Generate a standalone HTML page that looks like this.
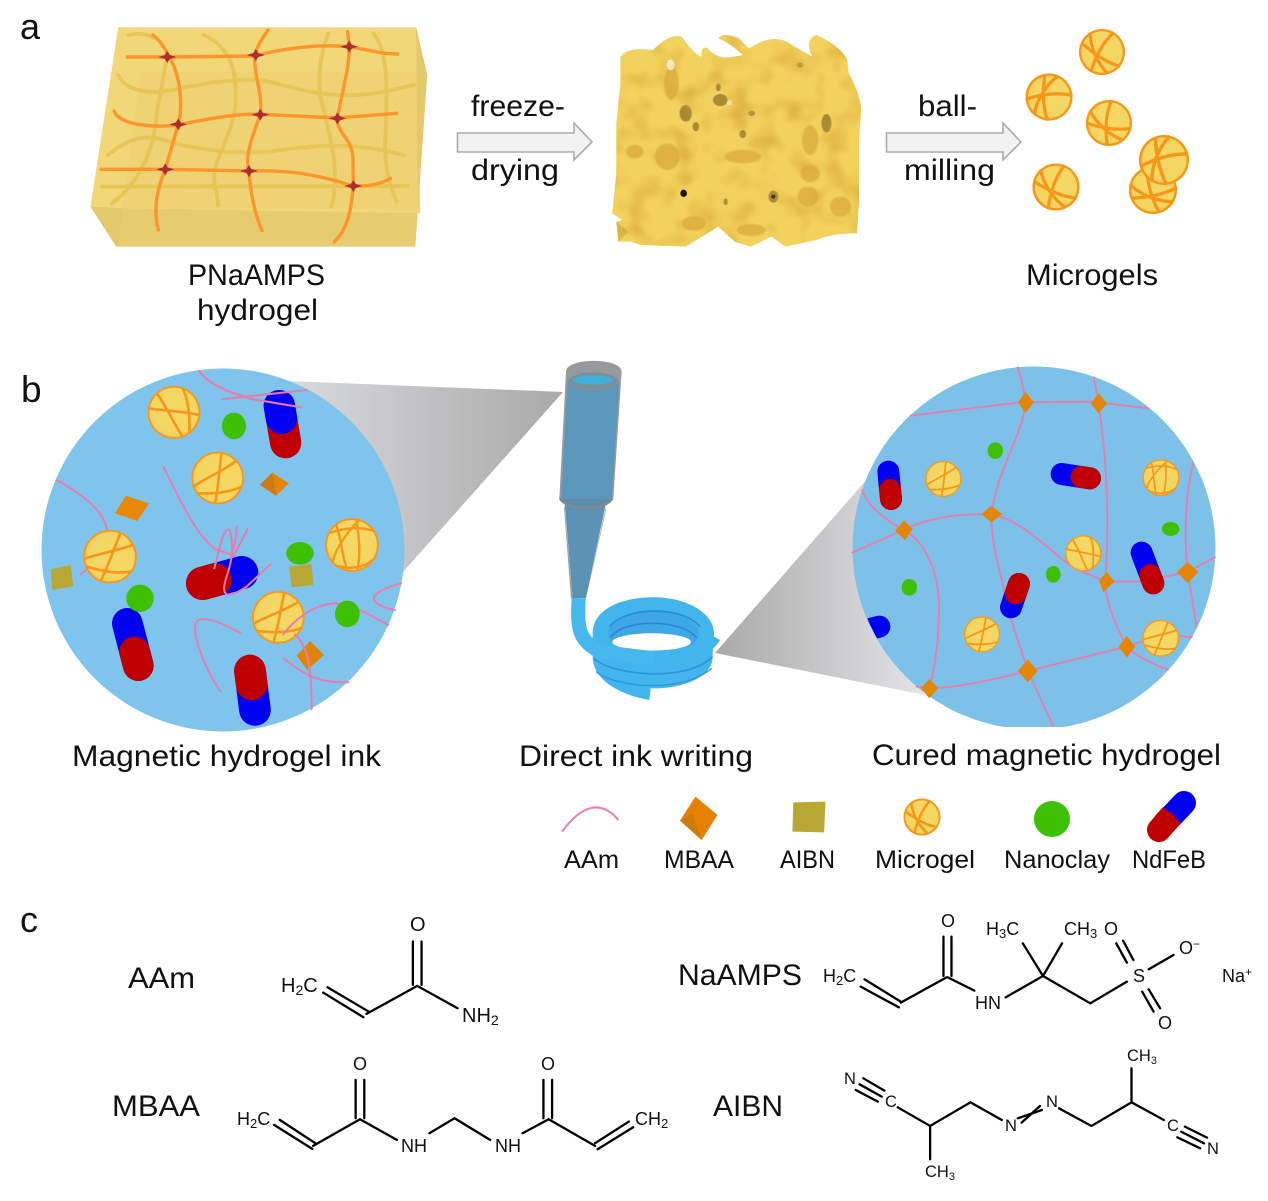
<!DOCTYPE html>
<html><head><meta charset="utf-8"><style>
html,body{margin:0;padding:0;background:#fff}
svg{display:block}
text{font-family:"Liberation Sans",sans-serif;fill:#111}
.n{vector-effect:non-scaling-stroke}
.p{fill:none;stroke:#e97cab;stroke-width:6;stroke-linecap:round}
.b{fill:none;stroke:#000;stroke-width:2.300;vector-effect:non-scaling-stroke;stroke-linecap:round}
.t{font-size:30px}.l{font-size:25px}.c{font-size:20px;fill:#111}.s{font-size:18px;fill:#111}.q{font-size:16.5px;fill:#111}
</style></head><body>
<svg width="1268" height="1201" viewBox="0 0 1268 1201" xmlns="http://www.w3.org/2000/svg">
<defs>
<radialGradient id="yb" cx=".5" cy=".45" r=".55"><stop offset="0" stop-color="#f5d966"/><stop offset=".82" stop-color="#f3d561"/><stop offset="1" stop-color="#ecc455"/></radialGradient>
<linearGradient id="gl" x1="0" x2="1" y1="0" y2="0"><stop offset="0" stop-color="#d9dadd"/><stop offset="1" stop-color="#a9a9a9"/></linearGradient>
<linearGradient id="gr" x1="0" x2="1" y1="0" y2="0"><stop offset="0" stop-color="#a9a9a9"/><stop offset="1" stop-color="#e4e4e8"/></linearGradient>
<filter id="bl" x="-20%" y="-20%" width="140%" height="140%"><feGaussianBlur stdDeviation="2"/></filter>
<filter id="bs" x="-20%" y="-20%" width="140%" height="140%"><feGaussianBlur stdDeviation="1"/></filter>
<filter id="sp" x="0" y="0" width="1" height="1" color-interpolation-filters="sRGB">
<feTurbulence type="fractalNoise" baseFrequency=".04" numOctaves="2" seed="7" result="n"/>
<feColorMatrix in="n" type="matrix" values="0 0 0 0 .85  0 0 0 0 .66  0 0 0 0 .22  2 0 0 0 -.95" result="m"/>
<feGaussianBlur in="m" stdDeviation="1" result="m2"/>
<feComposite in="m2" in2="SourceAlpha" operator="in" result="c"/>
<feMerge><feMergeNode in="SourceGraphic"/><feMergeNode in="c"/></feMerge>
</filter>
<g id="ball"><circle r="50" fill="url(#yb)"/><circle r="48.500" fill="none" stroke="#f7971a" stroke-width="3.500"/>
<path d="M-26,-41C-12,-14 -6,16 8,48M-47,-16C-16,-6 20,2 48,14M24,-43C32,-15 28,15 22,44" fill="none" stroke="#f7971a" stroke-width="5"/></g>
<g id="ball2"><circle r="50" fill="url(#yb)"/><circle r="48.500" fill="none" stroke="#f7971a" stroke-width="3.500"/>
<path d="M-30,-38C-18,-10 -20,22 -8,48M14,-48C-10,-22 -32,8 -36,32M8,-48C14,-14 16,20 10,48M-44,-22C-10,-34 20,-34 42,-26M-32,38C0,48 24,42 44,24" fill="none" stroke="#f7971a" stroke-width="4.500"/></g>
<g id="ballA"><circle r="50" fill="url(#yb)"/><circle r="47.500" fill="none" stroke="#f7971a" stroke-width="5"/>
<path d="M14,-48C-4,-20 -12,16 -12,48M-48,-8C-22,6 14,20 46,20M-36,-34C-26,-2 -4,26 24,42" fill="none" stroke="#f7971a" stroke-width="7"/></g>
<clipPath id="cr"><circle cx="582" cy="579" r="543"/></clipPath>
</defs>

<!-- panel a: block -->
<text x="20" y="39" font-size="36">a</text>
<g transform="scale(.408,.3333)">
<path d="M290,82L1020,82L1047,225L1018,740L285,740L222,620Z" fill="#e6cc6f"/>
<path d="M290,82L1020,82L1030,640L300,625L222,620Z" fill="#f1d778"/>
<path d="M345,215L1020,215L1028,630L300,622Z" fill="#eed274"/>
<path d="M1020,82L1047,225L1018,740L1024,632Z" fill="#e4c96c"/>
<path d="M222,620L300,625L290,740L285,740Z" fill="#e3c86c"/>
<g fill="none" stroke="#e7c655" stroke-width="3.800" stroke-linecap="round">
<path class="n" d="M315,105C340,98 360,100 375,115"/>
<path class="n" d="M290,225C310,280 380,285 440,265C520,245 600,235 640,240C700,255 750,280 830,285C900,290 960,270 1015,255"/>
<path class="n" d="M265,465C310,420 350,400 400,420C470,445 560,465 660,455C750,440 850,420 990,465"/>
<path class="n" d="M250,560L1000,558"/>
<path class="n" d="M275,610C340,550 380,450 385,330L410,170"/>
<path class="n" d="M500,105C560,140 580,200 578,300C575,400 520,480 525,540L535,615"/>
<path class="n" d="M805,100C780,180 775,260 795,340C820,460 830,540 812,620"/>
<path class="n" d="M915,100C950,150 950,250 945,400C940,480 950,540 972,605"/>
</g>
<g fill="none" stroke="#fb952c" stroke-width="3.400" stroke-linecap="round">
<path class="n" d="M312,171L410,171L625,168C680,150 770,130 855,140C900,148 930,162 975,162"/>
<path class="n" d="M280,333C290,375 380,385 438,374C500,360 570,340 640,343L825,354L972,340"/>
<path class="n" d="M248,508L405,508L610,513C700,510 770,520 865,558C900,560 930,555 957,535"/>
<path class="n" d="M375,105C400,130 410,160 415,172C440,220 450,310 437,373L405,508C385,570 375,620 388,690"/>
<path class="n" d="M657,90C640,120 630,140 625,165C620,220 645,280 638,344C615,420 600,470 610,513C615,590 625,640 642,692"/>
<path class="n" d="M852,95L856,140C855,220 835,290 827,355C825,400 860,410 865,470L866,558C860,640 850,690 820,725"/>
</g>
<g fill="#b02c30">
<path d="M410,153L416,165L432,171L416,177L410,189L404,177L388,171L404,165Z"/>
<path d="M627,147L633,159L649,165L633,171L627,183L621,171L605,165L621,159Z"/>
<path d="M856,122L862,134L878,140L862,146L856,158L850,146L834,140L850,134Z"/>
<path d="M437,355L443,367L459,373L443,379L437,391L431,379L415,373L431,367Z"/>
<path d="M638,326L644,338L660,344L644,350L638,362L632,350L616,344L632,338Z"/>
<path d="M827,337L833,349L849,355L833,361L827,373L821,361L805,355L821,349Z"/>
<path d="M405,490L411,502L427,508L411,514L405,526L399,514L383,508L399,502Z"/>
<path d="M610,495L616,507L632,513L616,519L610,531L604,519L588,513L604,507Z"/>
<path d="M866,540L872,552L888,558L872,564L866,576L860,564L844,558L860,552Z"/>
</g>
</g>

<!-- arrows -->
<path d="M457.500,133L574,133L574,123L592,142L574,160L574,152L457.500,152Z" fill="#f2f2f2" stroke="#aaa" stroke-width="1.600"/>
<path d="M886.500,133L1003,133L1003,123L1021,142L1003,160L1003,152L886.500,152Z" fill="#f2f2f2" stroke="#aaa" stroke-width="1.600"/>

<!-- sponge -->
<g filter="url(#sp)">
<g transform="translate(600,0) scale(.408,.3333)">
<path d="M50,170Q70,140 130,150Q170,100 200,110Q235,170 250,170Q245,135 265,145Q285,180 330,170L350,165Q320,130 290,115Q300,95 340,115L365,145L395,125Q440,105 470,135L520,170Q500,120 530,105Q580,130 605,175L610,220Q640,290 640,330L635,420L635,600L630,700Q570,700 530,720L455,740L420,710L370,740L330,725L290,680L210,740L100,735L75,725L45,725L40,665L55,660L30,640L40,520L40,370L50,250Z" fill="#f2d15c"/>
<g filter="url(#bl)" fill="#dfb443">
<ellipse cx="175" cy="250" rx="18" ry="50"/><ellipse cx="85" cy="455" rx="22" ry="20"/><ellipse cx="165" cy="470" rx="30" ry="40"/><ellipse cx="515" cy="420" rx="20" ry="45"/><ellipse cx="515" cy="520" rx="24" ry="26"/><ellipse cx="590" cy="620" rx="26" ry="30"/><ellipse cx="510" cy="590" rx="26" ry="30"/><ellipse cx="350" cy="470" rx="45" ry="20"/><ellipse cx="230" cy="670" rx="30" ry="22"/><ellipse cx="370" cy="690" rx="35" ry="18"/></g>
<g filter="url(#bs)" fill="#a88a36">
<ellipse cx="210" cy="340" rx="15" ry="25"/><ellipse cx="295" cy="300" rx="18" ry="18"/><ellipse cx="555" cy="370" rx="12" ry="28"/><ellipse cx="235" cy="380" rx="8" ry="14"/><ellipse cx="350" cy="402" rx="8" ry="12"/><ellipse cx="425" cy="590" rx="12" ry="18"/><ellipse cx="372" cy="340" rx="8" ry="8"/><ellipse cx="490" cy="195" rx="7" ry="8"/><ellipse cx="290" cy="262" rx="6" ry="12"/><ellipse cx="308" cy="605" rx="5" ry="10"/></g>
<ellipse cx="205" cy="580" rx="8" ry="11" fill="#1a1408"/><ellipse cx="425" cy="590" rx="5" ry="6" fill="#3a2a10"/><ellipse cx="173" cy="195" rx="10" ry="16" fill="#fff"/><ellipse cx="318" cy="308" rx="7" ry="8" fill="#f3ee9c"/>
<path d="M40,665L70,695L45,725Z" fill="#dcb548"/>
</g>
</g>

<!-- microgels a -->
<use href="#ballA" transform="translate(1102,52) scale(.46) rotate(15)"/>
<use href="#ballA" transform="translate(1049,97) scale(.47) rotate(70)"/>
<use href="#ballA" transform="translate(1109,123) scale(.46) rotate(-10)"/>
<use href="#ballA" transform="translate(1153,190) scale(.48) rotate(-30)"/>
<use href="#ballA" transform="translate(1164,160) scale(.5) rotate(60)"/>
<use href="#ballA" transform="translate(1056,187) scale(.47) rotate(5)"/>

<!-- beams -->
<polygon points="287,381 563,392 403,572 380,500" fill="url(#gl)"/>
<polygon points="715,653 875,470 890,600 925,695" fill="url(#gr)"/>

<!-- left circle -->
<text x="21" y="402" font-size="37">b</text>
<circle cx="223" cy="550" r="181.500" fill="#7fc4ec"/>
<g transform="translate(20,350) scale(.3333)">
<g class="p"><path d="M537,62C570,110 640,130 700,148L845,172"/></g>
<line x1="778" y1="167" x2="797" y2="278" stroke="#c00000" stroke-width="94" stroke-linecap="round"/>
<line x1="778" y1="167" x2="784.500" y2="205" stroke="#0000f0" stroke-width="94" stroke-linecap="round"/>
<g class="p"><path d="M605,148L860,120M537,62C570,110 640,130 700,148L845,172"/>
<path d="M430,350C480,450 530,560 590,600L640,615"/>
<path d="M110,390C180,430 255,480 262,545"/><path d="M182,672L200,660"/></g>
<use href="#ball" transform="translate(462,187) scale(1.58) rotate(-10)"/>
<use href="#ball" transform="translate(593,384) scale(1.57) rotate(80)"/>
<use href="#ball" transform="translate(270,620) scale(1.6) rotate(95)"/>
<use href="#ball2" transform="translate(996,585) scale(1.6)"/>
<line x1="665" y1="668" x2="548" y2="700" stroke="#0000f0" stroke-width="100" stroke-linecap="round"/>
<line x1="548" y1="700" x2="585" y2="690" stroke="#c00000" stroke-width="100" stroke-linecap="round"/>
<line x1="322" y1="820" x2="355" y2="947" stroke="#0000f0" stroke-width="92" stroke-linecap="round"/>
<line x1="355" y1="947" x2="344" y2="906" stroke="#c00000" stroke-width="92" stroke-linecap="round"/>
<line x1="705" y1="1080" x2="690" y2="962" stroke="#0000f0" stroke-width="95" stroke-linecap="round"/>
<line x1="690" y1="962" x2="695.200" y2="1003" stroke="#c00000" stroke-width="95" stroke-linecap="round"/>
<use href="#ball" transform="translate(775,802) scale(1.57) rotate(85)"/>
<g class="p"><path d="M583,655C600,590 610,530 630,540C640,590 640,620 620,680C600,740 620,750 680,710L752,642"/>
<path d="M650,530C650,570 640,600 632,615M683,537L640,620"/>
<path d="M662,850C610,820 560,800 535,810C505,830 550,950 602,1025"/>
<path d="M1143,700C1090,715 1050,735 1065,755C1080,770 1100,775 1125,780"/></g>
<g fill="#3cc000"><ellipse cx="642" cy="228" rx="36" ry="40"/><ellipse cx="840" cy="610" rx="41" ry="34"/><circle cx="360" cy="745" r="41"/></g>
<polygon points="720,405 757,368 807,400 768,437" fill="#e58405"/><polygon points="757,368 768,437 720,405" fill="#cf7a10"/>
<polygon points="318,437 387,460 352,513 285,490" fill="#e88805"/>
<polygon points="870,873 912,915 862,960 830,917" fill="#e08408"/>
<polygon points="92,658 152,645 160,708 97,720" fill="#b8a635"/>
<polygon points="808,650 875,642 880,705 815,712" fill="#b8a635"/>
<g class="p"><path d="M790,853C840,790 900,760 950,760C1010,770 1060,800 1105,825"/>
<path d="M825,855C870,890 875,980 875,1078"/><path d="M792,925C850,975 900,1000 985,997"/></g>
<ellipse cx="982" cy="792" rx="37" ry="40" fill="#3cc000"/>
</g>

<!-- nozzle -->
<g transform="translate(520,350) scale(.3333)">
<path d="M138,65C138,22 305,22 305,65L280,445L118,445Z" fill="#969a9d"/>
<path d="M143,95C150,120 290,125 298,95L276,445L124,445Z" fill="#5b96bb"/>
<ellipse cx="220" cy="95" rx="75" ry="28" fill="#7a8f9c"/>
<ellipse cx="218" cy="90" rx="60" ry="14" fill="#3fb0da"/>
<path d="M134,460L258,460L198,745L158,745Z" fill="#5c93b5"/>
<path d="M134,470L158,745L153,745L132,472ZM258,470L198,745L204,720L258,480Z" fill="#9a9c9e"/>
<path d="M120,445C135,482 262,482 277,445" fill="#5b8ead" stroke="#868a8e" stroke-width="7"/>
<path d="M176,745C172,830 172,870 240,905" fill="none" stroke="#42b5ec" stroke-width="42"/>
<path d="M218,850C218,780 300,742 400,742C500,742 582,790 582,850L577,930C570,985 480,1018 392,1015L388,1050C300,1035 218,990 218,920Z" fill="#42b5ec"/>
<ellipse cx="400" cy="850" rx="135" ry="70" fill="#3ea8e6"/>
<path d="M268,830C320,768 490,768 540,830" fill="none" stroke="#2b86d8" stroke-width="5" opacity=".85"/>
<path d="M272,865C300,805 490,805 530,865" fill="none" stroke="#2b86d8" stroke-width="5"/>
<ellipse cx="395" cy="876" rx="118" ry="26" fill="#fff"/>
<path d="M240,890C260,920 340,925 400,925C480,925 560,900 582,860" fill="none" stroke="#42b5ec" stroke-width="42"/>
<path d="M222,925C270,975 500,1000 578,920" fill="none" stroke="#2f93df" stroke-width="5"/>
<path d="M228,965C290,1015 490,1030 575,955" fill="none" stroke="#2f93df" stroke-width="4"/>
<path d="M176,745C172,830 172,870 240,905L400,925" fill="none" stroke="#45b8ee" stroke-width="42"/>
</g>

<!-- right circle -->
<circle cx="1034" cy="548" r="181.500" fill="#7dc0e8"/>
<g transform="translate(840,355) scale(.3333)">
<g class="p" style="stroke-width:5.500">
<path d="M212,182L540,142L755,140L925,160"/>
<path d="M533,37C545,70 552,100 555,142C555,230 470,340 455,478C450,560 480,640 512,790L563,945L640,1115"/>
<path d="M762,68L775,145C800,300 810,500 795,680C800,770 850,850 860,875C900,910 940,930 985,943"/>
<path d="M67,405C80,450 130,490 190,525C240,550 290,620 297,740C298,830 290,920 268,1000"/>
<path d="M37,593L190,525C260,490 350,475 455,478C520,490 580,540 640,590C690,640 750,660 800,680L900,680L1043,652L1125,607"/>
<path d="M230,995L270,1000C330,998 400,990 563,948L860,875L905,860"/>
<path d="M1060,325C1040,400 1030,520 1043,652L1070,815"/><path d="M1020,843L1055,847"/>
</g>
<g fill="#e58506">
<polygon points="557,110 581,142 557,174 534,142"/><polygon points="776,115 801,145 776,175 752,145"/>
<polygon points="192,496 218,522 195,555 165,527"/><polygon points="453,453 487,477 455,502 424,478"/>
<polygon points="800,651 824,680 790,711 777,677"/><polygon points="1043,621 1075,652 1043,684 1011,652"/>
<polygon points="860,843 886,875 860,908 836,875"/><polygon points="563,914 593,948 563,982 534,948"/>
<polygon points="268,972 295,1000 268,1030 243,1000"/>
</g>
<g clip-path="url(#cr)">
<line x1="118" y1="815" x2="60" y2="830" stroke="#0000f0" stroke-width="66" stroke-linecap="round"/>
</g>
<line x1="145" y1="350" x2="153" y2="432" stroke="#0000f0" stroke-width="66" stroke-linecap="round"/>
<line x1="153" y1="432" x2="150.400" y2="405" stroke="#c00000" stroke-width="66" stroke-linecap="round"/>
<line x1="665" y1="357" x2="750" y2="370" stroke="#0000f0" stroke-width="66" stroke-linecap="round"/>
<line x1="750" y1="370" x2="724.500" y2="366" stroke="#c00000" stroke-width="66" stroke-linecap="round"/>
<line x1="905" y1="593" x2="940" y2="685" stroke="#0000f0" stroke-width="66" stroke-linecap="round"/>
<line x1="940" y1="685" x2="931" y2="661" stroke="#c00000" stroke-width="66" stroke-linecap="round"/>
<line x1="513" y1="757" x2="537" y2="687" stroke="#0000f0" stroke-width="66" stroke-linecap="round"/>
<line x1="537" y1="687" x2="527.400" y2="715" stroke="#c00000" stroke-width="66" stroke-linecap="round"/>
<use href="#ball" transform="translate(310,372) scale(1.08) rotate(80)"/>
<use href="#ball2" transform="translate(963,368) scale(1.1) rotate(5)"/>
<use href="#ball" transform="translate(730,595) scale(1.08) rotate(-5)"/>
<use href="#ball" transform="translate(426,838) scale(1.08) rotate(85)"/>
<use href="#ball" transform="translate(962,850) scale(1.1) rotate(95)"/>
<g fill="#3cc000"><ellipse cx="466" cy="287" rx="23" ry="25"/><ellipse cx="992" cy="522" rx="26" ry="21"/><ellipse cx="208" cy="697" rx="23" ry="25"/><ellipse cx="640" cy="658" rx="22" ry="25"/></g>
</g>
<rect x="840" y="727" width="390" height="10" fill="#fff"/>

<!-- legend -->
<g transform="translate(540,780) scale(.4405,.3333)">
<path class="n" d="M50,155Q120,30 178,120" fill="none" stroke="#ee7fae" stroke-width="2"/>
<polygon points="353,50 403,105 367,180 318,122" fill="#e58002"/><polygon points="318,122 367,180 345,100" fill="#cc7a10"/>
<polygon points="575,67 648,65 645,157 573,155" fill="#b8a635"/>
</g>
<use href="#ballA" transform="translate(922,817) scale(.37) rotate(10)"/>
<ellipse cx="1052" cy="819" rx="18" ry="18" fill="#3cc000"/>
<line x1="1184" y1="803" x2="1165" y2="823" stroke="#0000f0" stroke-width="24" stroke-linecap="round"/>
<line x1="1159" y1="830" x2="1165" y2="823" stroke="#c00000" stroke-width="24" stroke-linecap="round"/>
<line x1="1164" y1="824" x2="1172" y2="815" stroke="#c00000" stroke-width="24"/>

<!-- chem bonds -->
<g transform="scale(.4337,.3333) translate(0,2700)">
<path class="b" d="M745,278L838,352M755,262L850,335M845,342L962,258M952,125L952,255M972,125L972,255M962,258L1055,325"/>
<path class="b" d="M632,675L720,747M645,660L727,730M722,738L830,658M820,540L820,655M840,540L840,655M830,658L915,720M990,700L1048,655L1130,720M1205,700L1265,658M1253,540L1253,655M1273,540L1273,655M1265,658L1372,738M1372,730L1450,665M1378,748L1460,682"/>
</g>
<g transform="translate(670,900) scale(.3814,.3333)">
<path class="b" d="M510,238L605,305M500,260L600,322M605,308L725,232M717,110L717,228M738,110L738,228M728,232L798,272M880,292L978,228L925,130M978,228L1028,130M978,228L1102,310L1198,245M1170,130L1198,188M1188,122L1215,180M1255,208L1320,165M1238,275L1268,335M1255,268L1285,325"/>
<path class="b" d="M487,570L545,605M497,553L555,590M507,535L562,572M597,622L682,678L788,607L870,660M682,678L682,778M912,655L975,630M922,668L970,618M1020,625L1105,678L1210,607L1210,505M1210,607L1295,660M1330,712L1390,745M1340,695L1400,730M1350,680L1408,713"/>
</g>

<!-- labels -->
<text class="t" x="188" y="285" textLength="137" lengthAdjust="spacingAndGlyphs">PNaAMPS</text>
<text class="t" x="197" y="320" textLength="121" lengthAdjust="spacingAndGlyphs">hydrogel</text>
<text class="t" x="471" y="116" textLength="94" lengthAdjust="spacingAndGlyphs">freeze-</text>
<text class="t" x="471" y="180" textLength="88" lengthAdjust="spacingAndGlyphs">drying</text>
<text class="t" x="918" y="116" textLength="59" lengthAdjust="spacingAndGlyphs">ball-</text>
<text class="t" x="904" y="180" textLength="91" lengthAdjust="spacingAndGlyphs">milling</text>
<text class="t" x="1026" y="285" textLength="132" lengthAdjust="spacingAndGlyphs">Microgels</text>
<text class="t" x="72" y="766" textLength="309" lengthAdjust="spacingAndGlyphs">Magnetic hydrogel ink</text>
<text class="t" x="519" y="766" textLength="234" lengthAdjust="spacingAndGlyphs">Direct ink writing</text>
<text class="t" x="872" y="765" textLength="349" lengthAdjust="spacingAndGlyphs">Cured magnetic hydrogel</text>
<text class="l" x="564" y="868" textLength="55" lengthAdjust="spacingAndGlyphs">AAm</text>
<text class="l" x="664" y="868" textLength="70" lengthAdjust="spacingAndGlyphs">MBAA</text>
<text class="l" x="780" y="868" textLength="55" lengthAdjust="spacingAndGlyphs">AIBN</text>
<text class="l" x="875" y="868" textLength="100" lengthAdjust="spacingAndGlyphs">Microgel</text>
<text class="l" x="1004" y="868" textLength="106" lengthAdjust="spacingAndGlyphs">Nanoclay</text>
<text class="l" x="1132" y="868" textLength="74" lengthAdjust="spacingAndGlyphs">NdFeB</text>
<text x="20" y="932" font-size="36">c</text>
<text class="t" x="128" y="988" textLength="67" lengthAdjust="spacingAndGlyphs">AAm</text>
<text class="t" x="112" y="1116" textLength="88" lengthAdjust="spacingAndGlyphs">MBAA</text>
<text class="t" x="678" y="985" textLength="124" lengthAdjust="spacingAndGlyphs">NaAMPS</text>
<text class="t" x="713" y="1116" textLength="70" lengthAdjust="spacingAndGlyphs">AIBN</text>

<text class="c" x="281" y="992">H<tspan font-size="14" dy="3">2</tspan><tspan dy="-3">C</tspan></text>
<text class="c" x="410" y="931">O</text>
<text class="c" x="462" y="1022">NH<tspan font-size="14" dy="3">2</tspan></text>
<text class="s" x="237" y="1125">H<tspan font-size="13" dy="3">2</tspan><tspan dy="-3">C</tspan></text>
<text class="s" x="353" y="1070">O</text><text class="s" x="401" y="1152">NH</text>
<text class="s" x="541" y="1070">O</text><text class="s" x="495" y="1152">NH</text>
<text class="s" x="635" y="1125">CH<tspan font-size="13" dy="3">2</tspan></text>
<text class="s" x="823" y="982">H<tspan font-size="13" dy="3">2</tspan><tspan dy="-3">C</tspan></text>
<text class="s" x="941" y="927">O</text>
<text class="s" x="986" y="935">H<tspan font-size="13" dy="3">3</tspan><tspan dy="-3">C</tspan></text>
<text class="s" x="1064" y="935">CH<tspan font-size="13" dy="3">3</tspan></text>
<text class="s" x="1104" y="935">O</text>
<text class="s" x="1179" y="954">O<tspan font-size="12" dy="-6">−</tspan></text>
<text class="s" x="1133" y="982">S</text>
<text class="s" x="975" y="1009">HN</text>
<text class="s" x="1158" y="1029">O</text>
<text class="s" x="1222" y="982">Na<tspan font-size="12" dy="-6">+</tspan></text>
<text class="q" x="844" y="1084">N</text><text class="q" x="885" y="1107">C</text>
<text class="q" x="1005" y="1131">N</text><text class="q" x="1046" y="1107">N</text>
<text class="q" x="1127" y="1061">CH<tspan font-size="11" dy="3">3</tspan></text>
<text class="q" x="1167" y="1131">C</text><text class="q" x="1207" y="1154">N</text>
<text class="q" x="925" y="1177">CH<tspan font-size="11" dy="3">3</tspan></text>
</svg>
</body></html>
